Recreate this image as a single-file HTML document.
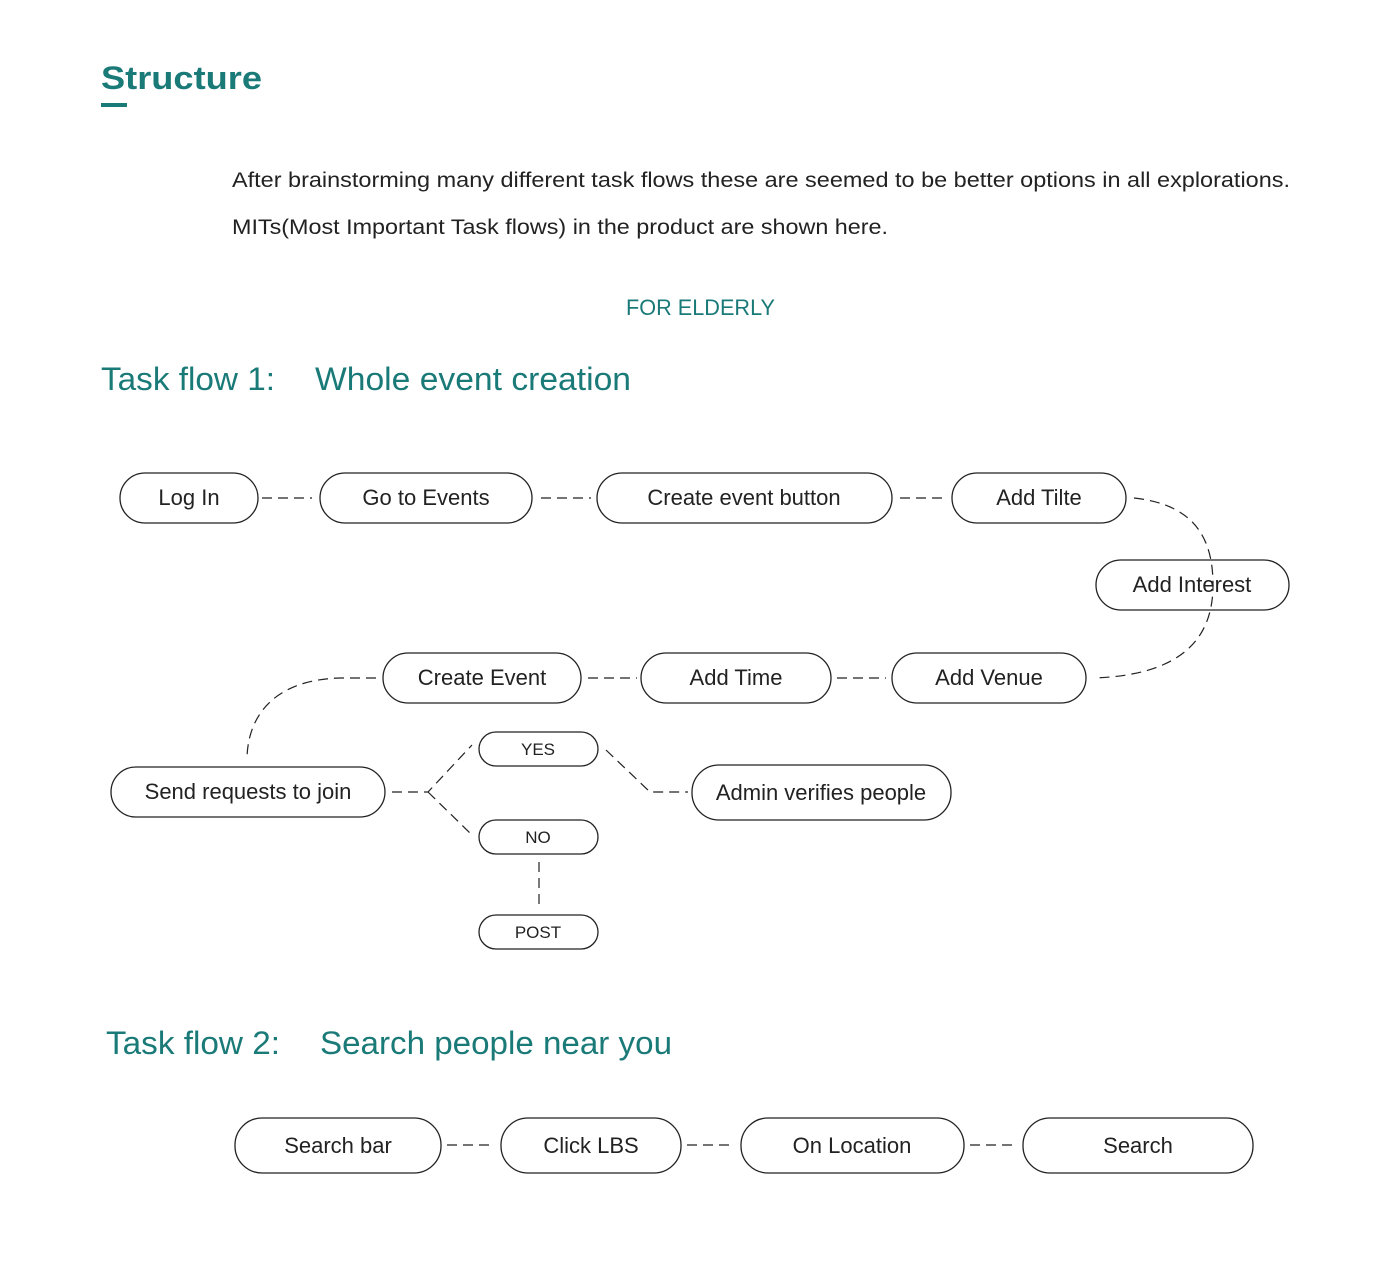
<!DOCTYPE html>
<html><head><meta charset="utf-8"><style>
body{margin:0;background:#fff;}
svg{display:block;font-family:"Liberation Sans",sans-serif;}
</style></head><body>
<svg width="1400" height="1278" viewBox="0 0 1400 1278" xmlns="http://www.w3.org/2000/svg">
<text x="101" y="89" font-size="32" font-weight="bold" fill="#1a7a78" textLength="161" lengthAdjust="spacingAndGlyphs">Structure</text>
<rect x="101" y="103" width="26" height="4" fill="#1a7a78"/>
<text x="232" y="187" font-size="21" fill="#222" textLength="1058" lengthAdjust="spacingAndGlyphs">After brainstorming many different task flows these are seemed to be better options in all explorations.</text>
<text x="232" y="234" font-size="21" fill="#222" textLength="656" lengthAdjust="spacingAndGlyphs">MITs(Most Important Task flows) in the product are shown here.</text>
<text x="626" y="315" font-size="22" fill="#1a7a78" textLength="149" lengthAdjust="spacingAndGlyphs">FOR ELDERLY</text>
<text x="101" y="390" font-size="32" fill="#1a7a78" textLength="174" lengthAdjust="spacingAndGlyphs">Task flow 1:</text>
<text x="315" y="390" font-size="32" fill="#1a7a78" textLength="316" lengthAdjust="spacingAndGlyphs">Whole event creation</text>
<text x="106" y="1054" font-size="32" fill="#1a7a78" textLength="174" lengthAdjust="spacingAndGlyphs">Task flow 2:</text>
<text x="320" y="1054" font-size="32" fill="#1a7a78" textLength="352" lengthAdjust="spacingAndGlyphs">Search people near you</text>

<g fill="none" stroke="#222" stroke-width="1.2" stroke-dasharray="10,6">
<path d="M262,498H312M541,498H591M900,498H948"/>
<path d="M1134,498 C1200,505 1213,545 1213,585 C1213,640 1180,675 1094,678"/>
<path d="M588,678H637M837,678H886"/>
<path d="M376,678 H340 C270,680 247,720 247,760"/>
<path d="M392,792H428 L472,745 M428,792 L472,835"/>
<path d="M606,750 L650,792 H688"/>
<path d="M539,862V910"/>
<path d="M447,1145H495M687,1145H735M970,1145H1018"/>
</g>

<g fill="#fff" stroke="#222" stroke-width="1.3">
<rect x="120" y="473" width="138" height="50" rx="25"/>
<rect x="320" y="473" width="212" height="50" rx="25"/>
<rect x="597" y="473" width="295" height="50" rx="25"/>
<rect x="952" y="473" width="174" height="50" rx="25"/>
<rect x="1096" y="560" width="193" height="50" rx="25" fill="none"/>
<rect x="383" y="653" width="198" height="50" rx="25"/>
<rect x="641" y="653" width="190" height="50" rx="25"/>
<rect x="892" y="653" width="194" height="50" rx="25"/>
<rect x="111" y="767" width="274" height="50" rx="25"/>
<rect x="479" y="732" width="119" height="34" rx="17"/>
<rect x="479" y="820" width="119" height="34" rx="17"/>
<rect x="479" y="915" width="119" height="34" rx="17"/>
<rect x="692" y="765" width="259" height="55" rx="27"/>
<rect x="235" y="1118" width="206" height="55" rx="27"/>
<rect x="501" y="1118" width="180" height="55" rx="27"/>
<rect x="741" y="1118" width="223" height="55" rx="27"/>
<rect x="1023" y="1118" width="230" height="55" rx="27"/>
</g>

<g font-size="22" fill="#222" text-anchor="middle">
<text x="189" y="505">Log In</text>
<text x="426" y="505">Go to Events</text>
<text x="744" y="505">Create event button</text>
<text x="1039" y="505">Add Tilte</text>
<text x="1192" y="592">Add Interest</text>
<text x="482" y="685">Create Event</text>
<text x="736" y="685">Add Time</text>
<text x="989" y="685">Add Venue</text>
<text x="248" y="799">Send requests to join</text>
<text x="821" y="800">Admin verifies people</text>
<text x="338" y="1153">Search bar</text>
<text x="591" y="1153">Click LBS</text>
<text x="852" y="1153">On Location</text>
<text x="1138" y="1153">Search</text>
</g>
<g font-size="17" fill="#222" text-anchor="middle">
<text x="538" y="755">YES</text>
<text x="538" y="843">NO</text>
<text x="538" y="938">POST</text>
</g>
</svg>
</body></html>
